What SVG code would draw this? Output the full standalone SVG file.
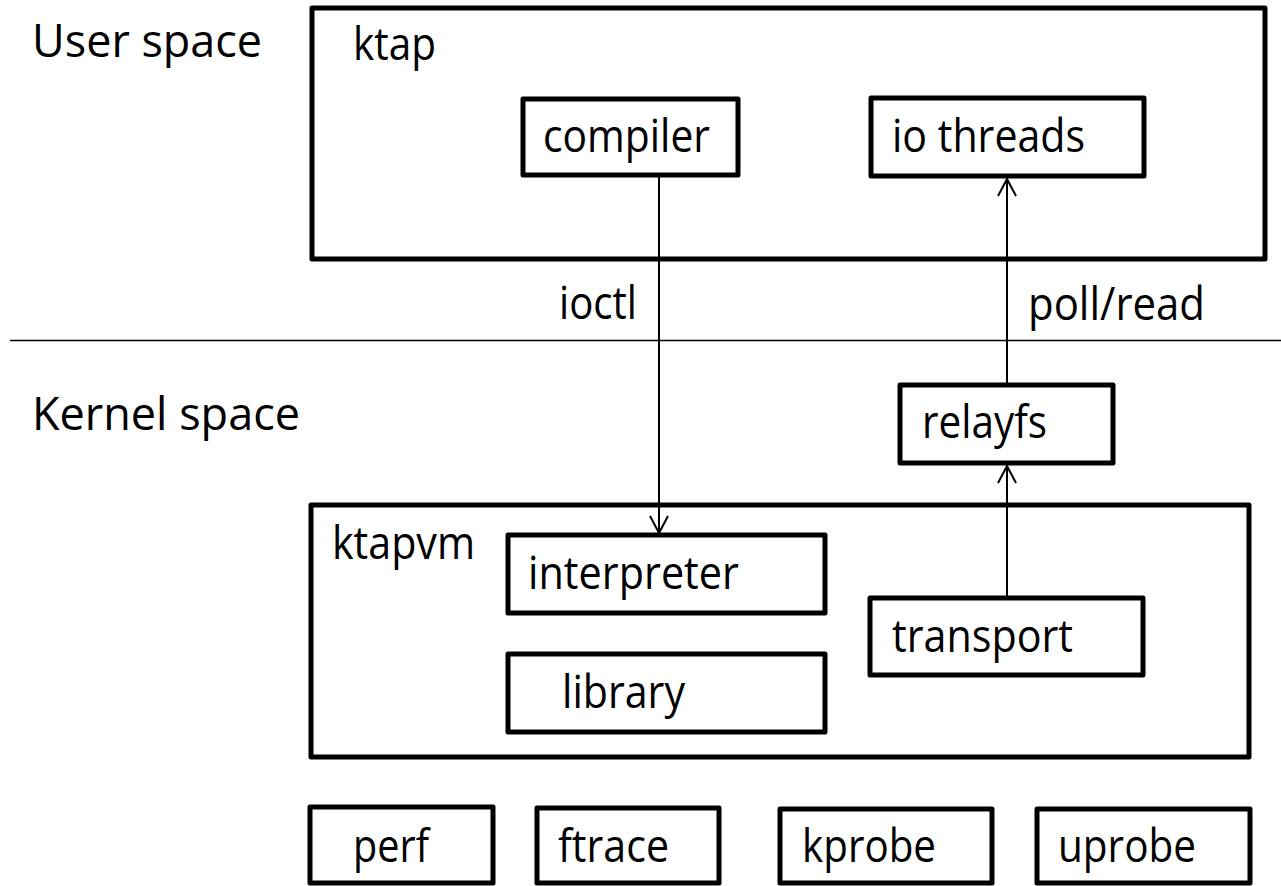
<svg xmlns="http://www.w3.org/2000/svg" width="1281" height="886" viewBox="0 0 1281 886">
<style>
.box{fill:#fff;stroke:#000;stroke-width:5;stroke-linejoin:round}
.lbl{font-family:"Open Sans","Liberation Sans",sans-serif;font-size:45px;fill:#000}
.conn{stroke:#000;stroke-width:2;fill:none}
</style>
<defs>
<marker id="arr" viewBox="0 0 20 20" refX="18" refY="10" markerWidth="20" markerHeight="20" markerUnits="userSpaceOnUse" orient="auto">
<path d="M1,1 L18,10 L1,19" fill="none" stroke="#000" stroke-width="2"/>
</marker>
</defs>
<rect width="1281" height="886" fill="#fff"/>
<g id="zone-labels">
<text class="lbl" x="32" y="57" textLength="230" lengthAdjust="spacingAndGlyphs">User space</text>
<text class="lbl" x="32" y="430" textLength="268" lengthAdjust="spacingAndGlyphs">Kernel space</text>
<line x1="10" y1="340.5" x2="1281" y2="340.5" stroke="#000" stroke-width="1.5"/>
</g>
<g id="ktap">
<rect class="box" x="312" y="8" width="953" height="251"/>
<text class="lbl" x="353" y="60" textLength="83" lengthAdjust="spacingAndGlyphs">ktap</text>
</g>
<g id="compiler">
<rect class="box" x="523" y="99" width="215" height="76"/>
<text class="lbl" x="543" y="152" textLength="167" lengthAdjust="spacingAndGlyphs">compiler</text>
</g>
<g id="io-threads">
<rect class="box" x="871" y="98" width="273" height="78"/>
<text class="lbl" x="892" y="152" textLength="193" lengthAdjust="spacingAndGlyphs">io threads</text>
</g>
<g id="relayfs">
<rect class="box" x="900" y="385" width="213" height="78"/>
<text class="lbl" x="922" y="438" textLength="125" lengthAdjust="spacingAndGlyphs">relayfs</text>
</g>
<g id="ktapvm">
<rect class="box" x="311" y="505" width="938" height="252"/>
<text class="lbl" x="332" y="559" textLength="143" lengthAdjust="spacingAndGlyphs">ktapvm</text>
</g>
<g id="interpreter">
<rect class="box" x="508" y="535" width="317" height="78"/>
<text class="lbl" x="528" y="589" textLength="211" lengthAdjust="spacingAndGlyphs">interpreter</text>
</g>
<g id="library">
<rect class="box" x="508" y="654" width="317" height="78"/>
<text class="lbl" x="562" y="708" textLength="123" lengthAdjust="spacingAndGlyphs">library</text>
</g>
<g id="transport">
<rect class="box" x="870" y="598" width="273" height="77"/>
<text class="lbl" x="892" y="652" textLength="181" lengthAdjust="spacingAndGlyphs">transport</text>
</g>
<g id="perf">
<rect class="box" x="310" y="807" width="183" height="76"/>
<text class="lbl" x="353" y="862" textLength="76" lengthAdjust="spacingAndGlyphs">perf</text>
</g>
<g id="ftrace">
<rect class="box" x="537" y="808" width="182" height="75"/>
<text class="lbl" x="558" y="862" textLength="111" lengthAdjust="spacingAndGlyphs">ftrace</text>
</g>
<g id="kprobe">
<rect class="box" x="780" y="809" width="212" height="74"/>
<text class="lbl" x="802" y="862" textLength="134" lengthAdjust="spacingAndGlyphs">kprobe</text>
</g>
<g id="uprobe">
<rect class="box" x="1037" y="809" width="213" height="74"/>
<text class="lbl" x="1058" y="862" textLength="138" lengthAdjust="spacingAndGlyphs">uprobe</text>
</g>
<g id="connectors">
<line class="conn" x1="659" y1="177" x2="659" y2="533" marker-end="url(#arr)"/>
<line class="conn" x1="1007" y1="383" x2="1007" y2="179" marker-end="url(#arr)"/>
<line class="conn" x1="1007" y1="596" x2="1007" y2="466" marker-end="url(#arr)"/>
<text class="lbl" x="559" y="319" textLength="78" lengthAdjust="spacingAndGlyphs">ioctl</text>
<text class="lbl" x="1028" y="320" textLength="177" lengthAdjust="spacingAndGlyphs">poll/read</text>
</g>
</svg>
